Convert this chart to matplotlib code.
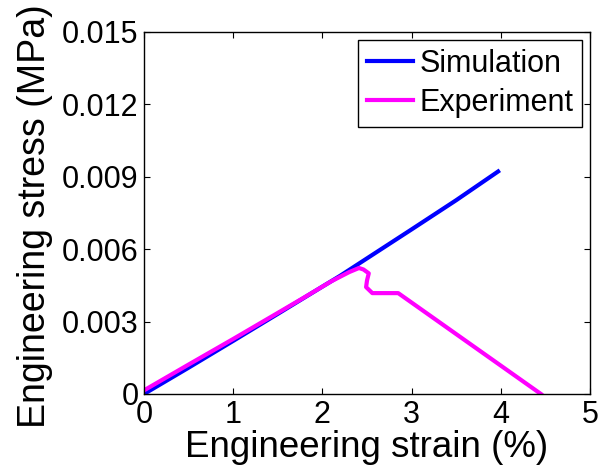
import numpy as np
import matplotlib
matplotlib.use('Agg')
import matplotlib.pyplot as plt

plt.rcParams['font.family'] = ['Liberation Sans', 'DejaVu Sans']

# Simulation curve (strain %, stress MPa)
sim_strain = [0.0, 0.5, 1.0, 1.5, 2.0, 2.2, 2.5, 3.0, 3.5, 3.97]
sim_stress = [0.0, 0.00109, 0.00220, 0.00332, 0.00445, 0.00490, 0.00562, 0.00682, 0.00803, 0.00922]

# Experiment curve
exp_strain = [0.0, 0.5, 1.0, 1.5, 1.8, 2.0, 2.1, 2.3, 2.41, 2.46, 2.52, 2.5, 2.49, 2.56, 2.85, 4.45]
exp_stress = [0.00015, 0.00122, 0.00228, 0.00336, 0.00401, 0.00445, 0.00467, 0.00505, 0.00522, 0.00516, 0.00500, 0.00470, 0.00443, 0.00418, 0.00418, 0.0]

xticks = [0, 1, 2, 3, 4, 5]
yticks = [0, 0.003, 0.006, 0.009, 0.012, 0.015]
ytick_labels = ['0', '0.003', '0.006', '0.009', '0.012', '0.015']

fig = plt.figure(figsize=(5.98, 4.74), dpi=100)
ax = fig.add_axes([0.2408, 0.1688, 0.7458, 0.7637])

ax.plot(sim_strain, sim_stress, color='#0000ff', lw=3, label='Simulation')
ax.plot(exp_strain, exp_stress, color='#ff00ff', lw=3, label='Experiment')

ax.set_xlim(0, 5)
ax.set_ylim(0, 0.015)
ax.set_xticks(xticks)
ax.set_yticks(yticks)
ax.set_yticklabels(ytick_labels)
ax.tick_params(direction='in', length=4, width=0.8, top=True, right=True,
               labelsize=22, pad=4)
for s in ax.spines.values():
    s.set_linewidth(1.0)

ax.set_xlabel('Engineering strain (%)', fontsize=26.5, labelpad=0)
ax.set_ylabel('Engineering stress (MPa)', fontsize=27, labelpad=8)
ax.yaxis.set_label_coords(-0.205, 0.49)

leg = ax.legend(loc='upper right', fontsize=22, frameon=True, fancybox=False,
                edgecolor='black', framealpha=1, handlelength=1.5,
                handletextpad=0.2, borderaxespad=0.25, borderpad=0.3,
                labelspacing=0.3)
leg.get_frame().set_linewidth(1.0)

plt.savefig('out.png', dpi=100)
